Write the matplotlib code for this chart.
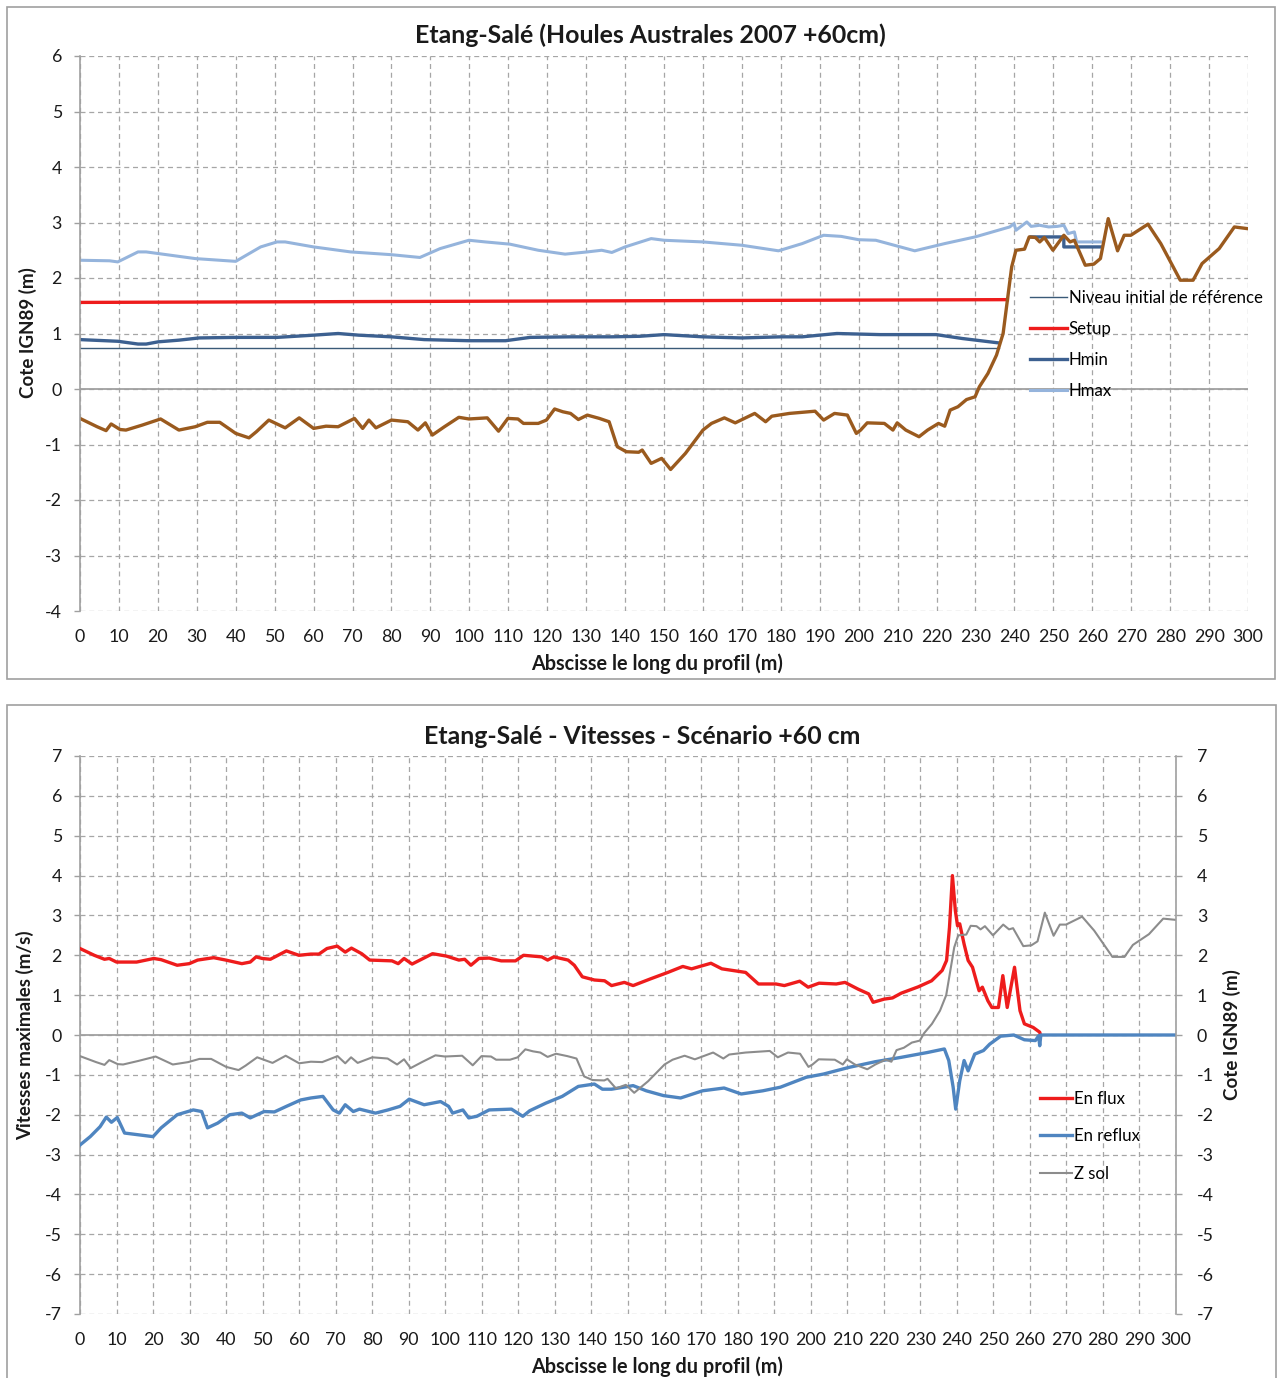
import numpy as np
import matplotlib
matplotlib.use('Agg')
import matplotlib.pyplot as plt
from matplotlib.patches import Rectangle

plt.rcParams['font.family'] = ['Lato', 'DejaVu Sans']
plt.rcParams['axes.unicode_minus'] = False

W, H = 1277, 1378

# profil du sol (m IGN89)
x_sol = [0, 4.4, 6.7, 8, 10.3, 11.8, 16, 20.7, 25.4, 29.6, 32.7, 35.9, 40, 43.4, 45.3, 48.5, 52.7, 56.3, 60,
         63.2, 66.3, 70.5, 72.6, 74.2, 76, 80, 84.2, 86.8, 88.7, 90.5, 93.6, 97.3, 99.9, 104.6, 107.5, 109.9,
         112.5, 113.9, 117.7, 119.8, 121.9, 124, 126, 128, 130.3, 133.4, 135.9, 138, 140.3, 143.5, 144.4,
         146.7, 149.4, 151.7, 155.5, 160, 162.2, 165.5, 168.3, 173.3, 176.1, 177.7, 182.2, 188.8, 191, 193.8,
         197.1, 199.4, 200.5, 202.2, 206.6, 208.8, 209.9, 212.1, 215.5, 217.7, 220.5, 222.1, 223.5, 225.5,
         227.7, 229.9, 231, 233.2, 235.4, 237.1, 238.2, 239.3, 240.4, 242.6, 243.8, 245.4, 246.5, 247.7,
         249.9, 252.7, 254.3, 255.4, 258.2, 260.4, 262.1, 264.1, 266.5, 268.2, 269.9, 274.3, 277.6, 282.6,
         285.9, 288.2, 292.6, 296.5, 299.8]
z_sol = [-0.53, -0.68, -0.75, -0.63, -0.73, -0.74, -0.65, -0.54, -0.74, -0.68, -0.6, -0.6, -0.8, -0.88, -0.77,
         -0.56, -0.7, -0.52, -0.71, -0.67, -0.68, -0.53, -0.71, -0.56, -0.7, -0.56, -0.59, -0.74, -0.61, -0.83,
         -0.68, -0.51, -0.54, -0.52, -0.76, -0.53, -0.54, -0.62, -0.62, -0.56, -0.36, -0.41, -0.44, -0.55,
         -0.47, -0.53, -0.59, -1.04, -1.13, -1.14, -1.1, -1.34, -1.25, -1.45, -1.16, -0.74, -0.62, -0.52,
         -0.61, -0.44, -0.59, -0.49, -0.44, -0.4, -0.56, -0.44, -0.47, -0.8, -0.74, -0.61, -0.62, -0.74,
         -0.61, -0.74, -0.86, -0.74, -0.62, -0.67, -0.38, -0.32, -0.19, -0.14, 0.04, 0.28, 0.61, 1.0, 1.6,
         2.2, 2.5, 2.52, 2.74, 2.73, 2.65, 2.73, 2.5, 2.77, 2.65, 2.68, 2.23, 2.25, 2.35, 3.07, 2.49, 2.77,
         2.77, 2.97, 2.62, 1.96, 1.96, 2.26, 2.53, 2.92, 2.89]

# niveaux d'eau
x_niveau = [0, 236]
y_niveau = [0.73, 0.73]
x_setup = [0, 238.2]
y_setup = [1.56, 1.61]
x_hmin = [0, 9.7, 14.9, 17, 20.1, 25.4, 30.6, 40, 50.6, 60, 66.3, 71.6, 80, 88.4, 99.9, 109.3, 115.6, 126.1,
          136.6, 143.8, 150, 160, 170, 180, 185.5, 194.4, 205.5, 219.9, 226.6, 236, np.nan, 244.3, 252.7,
          252.7, 262.1]
y_hmin = [0.89, 0.86, 0.81, 0.81, 0.85, 0.88, 0.92, 0.93, 0.93, 0.97, 1.0, 0.97, 0.94, 0.89, 0.87, 0.87,
          0.93, 0.94, 0.94, 0.95, 0.98, 0.94, 0.92, 0.94, 0.94, 1.0, 0.98, 0.98, 0.91, 0.83, np.nan, 2.74,
          2.74, 2.56, 2.56]
x_hmax = [0, 7.6, 9.7, 14.9, 17, 29.6, 40, 46.4, 50.6, 52.7, 60, 69.5, 80, 87.3, 92.5, 99.9, 104.1, 110.4,
          117.7, 124.6, 130.3, 134, 136.6, 140, 146.7, 150, 160, 170, 179.4, 185.5, 191, 195.5, 200, 204.4,
          214.4, 222.1, 229.9, 238.8, 239.9, 240.4, 243.2, 244.3, 246.5, 248.8, 251, 252.7, 253.8, 255.4,
          256, 262.1]
y_hmax = [2.32, 2.31, 2.29, 2.47, 2.47, 2.35, 2.3, 2.56, 2.65, 2.65, 2.56, 2.47, 2.42, 2.37, 2.53, 2.68,
          2.65, 2.61, 2.5, 2.43, 2.47, 2.5, 2.46, 2.56, 2.71, 2.68, 2.65, 2.59, 2.49, 2.62, 2.77, 2.75, 2.69,
          2.68, 2.49, 2.62, 2.74, 2.92, 2.98, 2.86, 3.01, 2.93, 2.95, 2.92, 2.93, 2.95, 2.8, 2.83, 2.65, 2.65]

# vitesses maximales (m/s)
x_flux = [0, 3.9, 6.7, 8, 10, 15.5, 20.2, 22.2, 26.6, 29.9, 32.2, 36.6, 39.9, 44.3, 46.6, 48.2, 49.9, 52.1,
          56.5, 59.9, 63.2, 65.4, 67.6, 70.4, 72.6, 74.3, 77.1, 79.3, 85.4, 87.1, 88.7, 90.9, 96.5, 100.3,
          103.7, 105.3, 107, 109.2, 112, 115.3, 119.2, 121.4, 126.4, 128, 129.7, 133.6, 135.3, 137.5, 140.8,
          143.6, 145.5, 149, 151.4, 156.2, 160.9, 165, 167.4, 172.7, 175.7, 182.2, 185.7, 190.5, 192.8, 197,
          199.3, 202.3, 207, 209.4, 213, 215.9, 217.1, 220.1, 222.4, 224.8, 229.5, 233.1, 236, 237.2, 238,
          238.8, 239.6, 240.2, 240.8, 242, 243.1, 244.3, 246.1, 247, 248.5, 249.6, 251.4, 252.6, 253.8,
          255.8, 257.3, 258.5, 260.9, 262.7, 262.9]
v_flux = [2.17, 2.0, 1.9, 1.92, 1.83, 1.83, 1.92, 1.89, 1.75, 1.79, 1.88, 1.94, 1.88, 1.79, 1.83, 1.96, 1.92,
          1.9, 2.11, 2.0, 2.03, 2.03, 2.17, 2.23, 2.08, 2.18, 2.04, 1.88, 1.86, 1.79, 1.92, 1.78, 2.04, 1.98,
          1.88, 1.9, 1.75, 1.92, 1.93, 1.86, 1.86, 2.0, 1.96, 1.88, 1.96, 1.88, 1.75, 1.46, 1.38, 1.36, 1.24,
          1.32, 1.24, 1.41, 1.57, 1.72, 1.66, 1.8, 1.66, 1.57, 1.28, 1.28, 1.24, 1.35, 1.2, 1.3, 1.28, 1.32,
          1.15, 1.03, 0.82, 0.9, 0.93, 1.05, 1.21, 1.36, 1.62, 1.87, 2.7, 4.0, 3.12, 2.74, 2.79, 2.28, 1.87,
          1.7, 1.11, 1.2, 0.86, 0.69, 0.69, 1.49, 0.69, 1.7, 0.61, 0.28, 0.19, 0.07, 0.0]
x_reflux = [0, 2.8, 5.5, 7.2, 8.6, 10.2, 12.2, 20, 22.2, 26.6, 31, 33.3, 34.9, 37.7, 41, 44.3, 46.6, 50.4,
            53.2, 56.5, 60.4, 63.2, 66.5, 69.3, 71, 72.6, 74.8, 76.5, 80.9, 84.3, 87.6, 90.1, 94.2, 98.7,
            100.9, 102, 104.8, 106.4, 108.6, 112, 118.1, 121.2, 123.1, 127.5, 132, 136.4, 140.8, 143, 145.5,
            151.4, 155, 159.7, 164.4, 170.4, 176.3, 181, 186.9, 191.7, 198.8, 203.5, 210.6, 217.7, 224.8,
            231.9, 236.6, 237.8, 239, 239.7, 240.8, 242, 243.1, 244.9, 247.3, 249, 252, 255.6, 258.5, 261.5,
            262.4, 262.7, 263, 300]
v_reflux = [-2.76, -2.55, -2.3, -2.06, -2.19, -2.07, -2.46, -2.55, -2.33, -2.0, -1.88, -1.92, -2.33, -2.21,
            -2.0, -1.96, -2.08, -1.92, -1.93, -1.79, -1.63, -1.58, -1.54, -1.88, -1.96, -1.75, -1.92, -1.86,
            -1.96, -1.88, -1.79, -1.61, -1.75, -1.67, -1.79, -1.96, -1.88, -2.08, -2.04, -1.88, -1.86, -2.04,
            -1.9, -1.71, -1.54, -1.29, -1.23, -1.36, -1.36, -1.27, -1.4, -1.52, -1.58, -1.4, -1.33, -1.48,
            -1.4, -1.31, -1.06, -0.98, -0.81, -0.67, -0.56, -0.44, -0.35, -0.64, -1.31, -1.86, -1.15, -0.64,
            -0.9, -0.48, -0.39, -0.23, -0.03, 0.0, -0.12, -0.14, -0.02, -0.27, 0.0, 0.0]

GRID = '#a6a6a6'
AXC = '#a0a0a0'
TXT = '#1a1a1a'


def rect(l, t, r, b):
    return [l / W, 1 - b / H, (r - l) / W, (b - t) / H]


def style(ax, ylo, yhi):
    ax.set_xlim(0, 300)
    ax.set_ylim(ylo, yhi)
    ax.set_xticks(range(0, 301, 10))
    ax.set_yticks(range(ylo, yhi + 1))
    ax.grid(True, ls=(0, (4, 3)), color=GRID, lw=0.9)
    ax.set_axisbelow(True)
    for s in ['top', 'right', 'bottom']:
        ax.spines[s].set_visible(False)
    ax.spines['left'].set_color(AXC)
    ax.spines['left'].set_linewidth(1.2)
    ax.axhline(0, color=AXC, lw=1.3, zorder=1)
    ax.tick_params(axis='x', length=0, pad=13, labelsize=12.8, colors=TXT)
    ax.tick_params(axis='y', length=4, width=1, color=AXC, pad=9, labelsize=12.8, labelcolor=TXT)


fig = plt.figure(figsize=(W / 100, H / 100), dpi=100)

# cadres des deux graphiques
fig.patches.append(Rectangle((7 / W, 1 - 679 / H), 1268 / W, 672 / H, transform=fig.transFigure,
                             fill=False, ec='#a0a0a0', lw=1.2))
fig.patches.append(Rectangle((7 / W, -0.05), 1269 / W, 1 - 705 / H + 0.05, transform=fig.transFigure,
                             fill=False, ec='#a0a0a0', lw=1.2))

# ---- graphique 1 : niveaux d'eau ----
ax1 = fig.add_axes(rect(80, 56, 1248, 611))
style(ax1, -4, 6)
l1, = ax1.plot(x_niveau, y_niveau, color='#3a5a78', lw=1.0)
l2, = ax1.plot(x_setup, y_setup, color='#ee1c1c', lw=2.4)
l3, = ax1.plot(x_hmin, y_hmin, color='#3c6090', lw=2.4)
l4, = ax1.plot(x_hmax, y_hmax, color='#95b4dc', lw=2.2)
ax1.plot(x_sol, z_sol, color='#9a5a1e', lw=2.4)
ax1.legend([l1, l2, l3, l4], ['Niveau initial de référence', 'Setup', 'Hmin', 'Hmax'],
           loc='upper left', bbox_to_anchor=(1030 / W, 1 - 290 / H), bbox_transform=fig.transFigure,
           frameon=False, fontsize=12.1, handlelength=2.2, handletextpad=0.1, labelspacing=0.89,
           borderpad=0, borderaxespad=0)
fig.text(650 / W, 1 - 35 / H, 'Etang-Salé (Houles Australes 2007 +60cm)', ha='center', va='center',
         fontsize=17.9, weight='bold', color=TXT)
fig.text(657 / W, 1 - 664 / H, 'Abscisse le long du profil (m)', ha='center', va='center',
         fontsize=14.3, weight='bold', color=TXT)
fig.text(28 / W, 1 - 333 / H, 'Cote IGN89 (m)', ha='center', va='center', rotation=90,
         fontsize=13.5, weight='bold', color=TXT)

# ---- graphique 2 : vitesses ----
ax2 = fig.add_axes(rect(80, 756, 1176, 1314))
style(ax2, -7, 7)
f1, = ax2.plot(x_flux, v_flux, color='#ee1c1c', lw=2.4, zorder=3)
f2, = ax2.plot(x_reflux, v_reflux, color='#4f85c0', lw=2.4, zorder=3)
ax3 = ax2.twinx()
ax3.set_ylim(-7, 7)
ax3.set_yticks(range(-7, 8))
for s in ['top', 'left', 'bottom']:
    ax3.spines[s].set_visible(False)
ax3.spines['right'].set_color(AXC)
ax3.spines['right'].set_linewidth(1.2)
ax3.tick_params(axis='y', length=4, width=1, color=AXC, pad=11, labelsize=12.8, labelcolor=TXT)
f3, = ax3.plot(x_sol, z_sol, color='#8c8c8c', lw=1.5)
ax3.legend([f1, f2, f3], ['En flux', 'En reflux', 'Z sol'],
           loc='upper left', bbox_to_anchor=(1040 / W, 1 - 1091 / H), bbox_transform=fig.transFigure,
           frameon=False, fontsize=12.1, handlelength=1.9, handletextpad=0.1, labelspacing=1.27,
           borderpad=0, borderaxespad=0)
fig.text(642 / W, 1 - 736 / H, 'Etang-Salé - Vitesses - Scénario +60 cm', ha='center', va='center',
         fontsize=17.9, weight='bold', color=TXT)
fig.text(657 / W, 1 - 1367 / H, 'Abscisse le long du profil (m)', ha='center', va='center',
         fontsize=14.3, weight='bold', color=TXT)
fig.text(25 / W, 1 - 1035 / H, 'Vitesses maximales (m/s)', ha='center', va='center', rotation=90,
         fontsize=13.5, weight='bold', color=TXT)
fig.text(1232 / W, 1 - 1035 / H, 'Cote IGN89 (m)', ha='center', va='center', rotation=90,
         fontsize=13.5, weight='bold', color=TXT)

fig.savefig('out.png', dpi=100)
